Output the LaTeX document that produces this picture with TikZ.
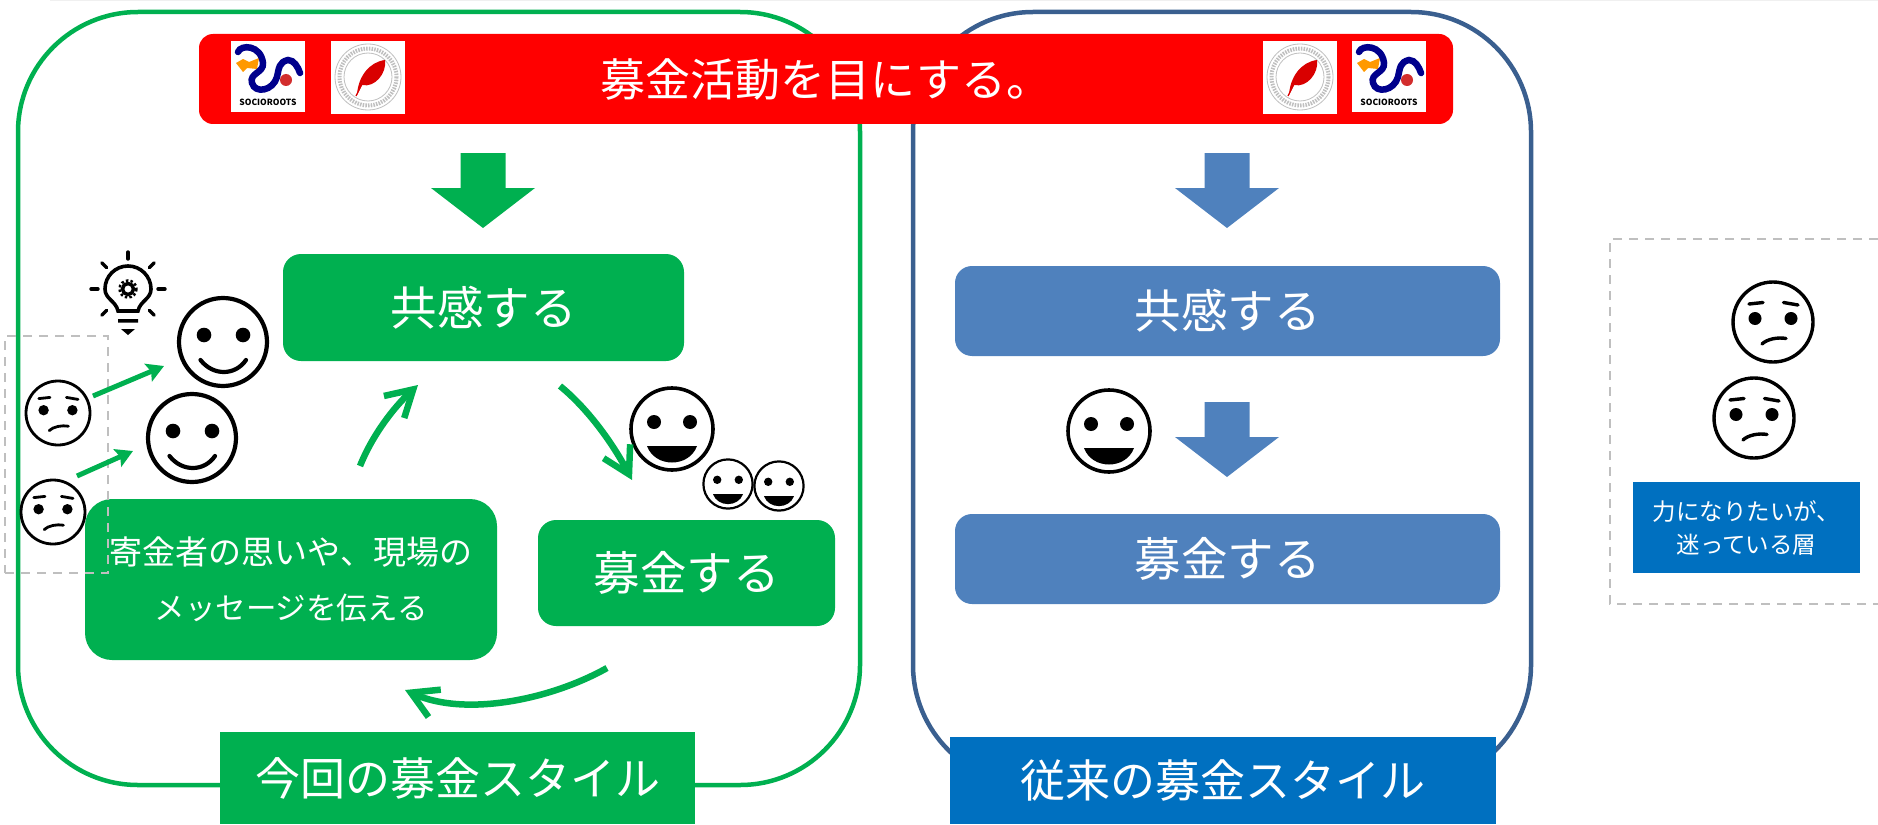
\documentclass[tikz,border=0pt]{standalone}
\usepackage{fontspec}
\setmainfont{Noto Sans CJK JP}
\usepackage{tikz}
\usetikzlibrary{arrows.meta}
\pgfdeclarelayer{bg}
\pgfsetlayers{bg,main}
\definecolor{stylegreen}{HTML}{00B050}
\definecolor{styleblue}{HTML}{4F81BD}
\definecolor{panelblue}{HTML}{3A5F8F}
\definecolor{labelblue}{HTML}{0070C0}
\definecolor{dashgray}{HTML}{BFBFBF}
\tikzset{
        x=1pt, y=-1pt,
        panel/.style={draw, line width=4.5pt, rounded corners=120pt, inner sep=0pt},
        stepgreen/.style={fill=stylegreen, text=white, rounded corners=18pt, inner sep=0pt, align=center},
        stepblue/.style={fill=styleblue, text=white, rounded corners=17pt, inner sep=0pt, align=center},
        stylelabel/.style={text=white, inner sep=0pt, align=center, font=\fontsize{45}{52}\selectfont},
        bigtext/.style={font=\fontsize{46.5}{54}\selectfont},
        dashbox/.style={draw=dashgray, line width=2.6pt, dash pattern=on 9pt off 7pt},
        cyclearrow/.style={draw=stylegreen, line width=6.5pt, -{Straight Barb[length=26pt,width=30pt,line width=6.5pt]}},
        gainarrow/.style={draw=stylegreen, line width=5pt, -{Stealth[length=17pt,width=19pt,inset=3pt]}},
        pics/downarrow/.style={code={
                \fill (-22.5,-75) -- (22.5,-75) -- (22.5,-40) -- (52,-40) -- (0,0) -- (-52,-40) -- (-22.5,-40) -- cycle;
        }},
        pics/sadface/.style={code={
                \draw[fill=white] (0,0) circle (40);
                \fill (-18,-3.5) circle (6.5) (18,-3.5) circle (6.5);
                \draw[line cap=round] (-24,-18) -- (-10,-19.5) (10.5,-19.5) -- (25,-17);
                \draw[line cap=round] (-11,22) .. controls (-6,17) and (5,15) .. (13,16.5);
        }},
        pics/smileface/.style={code={
                \draw[fill=white] (0,0) circle (44);
                \fill (-19,-7) circle (7.3) (20,-7) circle (7.3);
                \draw[line cap=round] (-22.5,18) .. controls (-10,34) and (12,34) .. (23,18);
        }},
        pics/grinface/.style={code={
                \draw[fill=white] (0,0) circle (41);
                \fill (-18,-7) circle (7) (18,-7) circle (7);
                \fill (-25,17) -- (25,17) .. controls (17,39) and (-17,39) .. (-25,17) -- cycle;
        }},
        pics/bulb/.style={code={
                \draw[line width=3.6pt] (-10,22) .. controls (-12,12) and (-23,10) .. (-23,0)
                        arc[start angle=180, end angle=360, radius=23]
                        .. controls (23,10) and (12,12) .. (10,22) -- cycle;
                \draw[line width=3.5pt] (0,0) circle (5.5);
                \draw[line width=2.5pt, dash pattern=on 2.5pt off 2.2pt] (0,0) circle (8.5);
                \foreach \a in {0,45,135,180,225,270,315}
                        \draw[line width=3.4pt, line cap=round] (\a:30) -- (\a:37);
                \fill (-10,30) rectangle (10,33.5) (-7,40) -- (7,40) -- (0,46) -- cycle;
        }},
        pics/rootslogo/.style={code={
                \fill[white] (0,0) rectangle (74,71);
                \fill[orange!80!yellow] (5,22) -- (12,18) -- (18,21) -- (28,17) -- (26,28) -- (16,27) -- (12,31) -- cycle;
                \draw[blue!55!black, line width=6.5pt, line cap=round]
                        (7,11) .. controls (10,3) and (30,4) .. (32,22)
                        .. controls (33,32) and (18,32) .. (21,42)
                        .. controls (24,53) and (42,50) .. (46,36)
                        .. controls (48,27) and (48,21) .. (57,19)
                        .. controls (63,19) and (67,26) .. (69,32);
                \fill[red!65!gray] (55,39) circle (6);
                \node[inner sep=0pt, font=\bfseries\fontsize{8.5}{9}\selectfont] (-word) at (37,61) {SOCIOROOTS};
        }},
        pics/quilllogo/.style={code={
                \fill[white] (0,0) rectangle (74,73);
                \draw[gray!50, line width=.8pt] (37,36) circle (33) (37,36) circle (24);
                \draw[gray!50, line width=4pt, dash pattern=on 1.5pt off 1.2pt] (37,36) circle (28.5);
                \fill[red!85!black] (26,54) .. controls (27,36) and (38,21) .. (54,19)
                        .. controls (56,32) and (44,47) .. (31,44) -- cycle;
                \draw[red!85!black, line width=1.2pt] (31,43) -- (25,55);
        }},
}
\begin{document}
\begin{tikzpicture}
        \useasboundingbox (0,0) rectangle (1878,824);
        \begin{pgfonlayer}{bg}
                \coordinate (topa) at (50,0.6);
                \coordinate (topb) at (1878,0.6);
                \draw [draw=black!6, line width=1.2pt] (topa) -- (topb);
                \node (greenpanel) [panel, draw=stylegreen, minimum width=842pt, minimum height=773pt] at (439,398.5) {};
                \node (bluepanel) [panel, draw=panelblue, minimum width=618pt, minimum height=773pt] at (1222,398.5) {};
        \end{pgfonlayer}
        \node (headbar) [fill=red, text=white, rounded corners=14pt, minimum width=1254pt, minimum height=90pt, inner sep=0pt, font=\fontsize{45}{50}\selectfont] at (826,79) {募金活動を目にする。};
        \pic (logoa) at (231,41) {rootslogo};
        \pic (logob) at (331,41) {quilllogo};
        \pic (logoc) at (1263,41) {quilllogo};
        \pic (logod) at (1352,41) {rootslogo};
        \pic (downa) [fill=stylegreen] at (483,228) {downarrow};
        \pic (downb) [fill=styleblue] at (1227,228) {downarrow};
        \pic (downc) [fill=styleblue] at (1227,477) {downarrow};
        \node (sharegreen) [stepgreen, bigtext, minimum width=401pt, minimum height=107pt] at (483.5,307.5) {共感する};
        \node (givegreen) [stepgreen, bigtext, minimum width=297pt, minimum height=106pt] at (686.5,573) {募金する};
        \node (msggreen) [stepgreen, rounded corners=27pt, minimum width=412pt, minimum height=161pt, font=\fontsize{33}{55}\selectfont] at (291,579.5) {寄金者の思いや、現場の\\\fontsize{30.5}{55}\selectfont メッセージを伝える};
        \node (shareblue) [stepblue, bigtext, minimum width=545pt, minimum height=90pt] at (1227.5,311) {共感する};
        \node (giveblue) [stepblue, bigtext, minimum width=545pt, minimum height=90pt] at (1227.5,559) {募金する};
        \node (newlabel) [stylelabel, fill=stylegreen, minimum width=475pt, minimum height=92pt] at (457.5,778) {今回の募金スタイル};
        \node (oldlabel) [stylelabel, fill=labelblue, minimum width=546pt, minimum height=87pt] at (1223,780.5) {従来の募金スタイル};
        \node (waverbox) [fill=labelblue, text=white, inner sep=0pt, align=center, minimum width=227pt, minimum height=91pt, font=\fontsize{23.5}{33}\selectfont] at (1746.5,527.5) {力になりたいが、\\迷っている層};
        \pic (sada) [line width=3.4pt] at (1773,322) {sadface};
        \pic (sadb) [line width=3.4pt] at (1754,418) {sadface};
        \pic (sadc) [scale=.8, line width=2.8pt] at (58,413) {sadface};
        \pic (sadd) [scale=.8, line width=2.8pt] at (53,512) {sadface};
        \pic (smilea) [line width=4.2pt] at (223,342) {smileface};
        \pic (smileb) [line width=4.2pt] at (192,438) {smileface};
        \pic (grina) [line width=3.6pt] at (672,429) {grinface};
        \pic (grinb) [line width=3.6pt] at (1109,431) {grinface};
        \pic (grinc) [scale=.6, line width=2.2pt] at (728,484) {grinface};
        \pic (grind) [scale=.6, line width=2.2pt] at (779,486) {grinface};
        \pic (idea) at (128,289) {bulb};
        \node (doubtbox) [dashbox, minimum width=103pt, minimum height=237pt] at (56.5,454.5) {};
        \coordinate (edgea) at (1878,239);
        \coordinate (edgeb) at (1610,239);
        \coordinate (edgec) at (1610,604);
        \coordinate (edged) at (1878,604);
        \draw [dashbox] (edgea) -- (edgeb) -- (edgec) -- (edged);
        \coordinate (msgout) at (360,466);
        \coordinate (sharein) at (418,385);
        \coordinate (shareout) at (560,386);
        \coordinate (givein) at (632,480);
        \coordinate (giveout) at (607,668);
        \coordinate (msgin) at (405,690);
        \draw [cyclearrow] (msgout) .. controls (372,436) and (393,408) .. (sharein);
        \draw [cyclearrow] (shareout) .. controls (587,408) and (612,442) .. (givein);
        \draw [cyclearrow] (giveout) .. controls (550,700) and (465,717) .. (msgin);
        \coordinate (sadcout) at (93,396);
        \coordinate (smileain) at (164,366);
        \coordinate (saddout) at (77,476);
        \coordinate (smilebin) at (133,451);
        \draw [gainarrow] (sadcout) -- (smileain);
        \draw [gainarrow] (saddout) -- (smilebin);
\end{tikzpicture}
\end{document}
